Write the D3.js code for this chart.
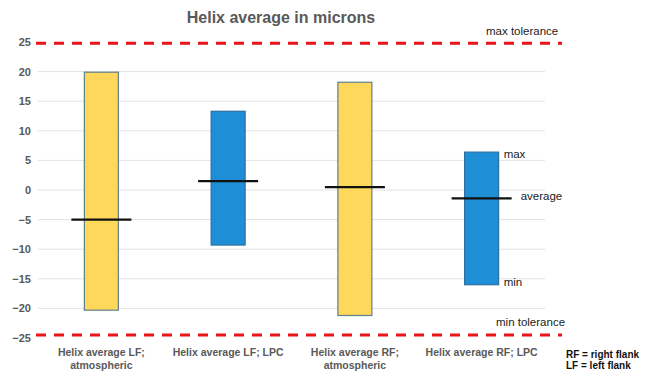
<!DOCTYPE html>
<html>
<head>
<meta charset="utf-8">
<script src="https://cdn.jsdelivr.net/npm/d3@7"></script>
<style>
  body { margin: 0; background: #fff; }
  svg { display: block; font-family: Arial, "Liberation Sans", sans-serif; }
</style>
</head>
<body>
<div id="chart"></div>
<script>
// data
const categories = [
  ["Helix average LF;", "atmospheric"],
  ["Helix average LF; LPC"],
  ["Helix average RF;", "atmospheric"],
  ["Helix average RF; LPC"]
];
const maxValues = [19.9, 13.3, 18.2, 6.4];
const minValues = [-20.3, -9.3, -21.2, -16.0];
const avgValues = [-5.0, 1.5, 0.5, -1.4];
const barColors = ["#FFD75A", "#1E8FD6", "#FFD75A", "#1E8FD6"];
const barStrokes = ["#5f7f8c", "#2a6fa0", "#5f7f8c", "#2a6fa0"];
const yTicks = [-25, -20, -15, -10, -5, 0, 5, 10, 15, 20, 25];
const maxTolerance = 24.8;
const minTolerance = -24.5;

const width = 647, height = 371;
const margin = { top: 42, right: 102, bottom: 33, left: 38 };

const svg = d3.select("#chart").append("svg")
  .attr("width", width)
  .attr("height", height);

// y scale: 25 at y=42, -25 at y=338
const y = d3.scaleLinear()
  .domain([-25, 25])
  .range([height - margin.bottom, margin.top]);

const x = d3.scaleBand()
  .domain(d3.range(categories.length))
  .range([margin.left, width - margin.right])
  .paddingInner(0);

// gridlines
svg.append("g")
  .selectAll("line")
  .data(yTicks.filter(t => Math.abs(t) < 25))
  .join("line")
  .attr("x1", margin.left)
  .attr("x2", width - margin.right)
  .attr("y1", d => y(d))
  .attr("y2", d => y(d))
  .attr("stroke", "#e3e3e3")
  .attr("stroke-width", 1);

// y axis labels
const yAxis = svg.append("g")
  .attr("transform", "translate(" + (margin.left - 7) + ",0)")
  .call(d3.axisLeft(y).tickValues(yTicks).tickSize(0).tickPadding(0));
yAxis.select(".domain").remove();
yAxis.selectAll("text")
  .attr("fill", "#595959")
  .style("font-size", "11px")
  .style("font-weight", "bold");

// bars (min to max)
const barW = 34;
svg.append("g")
  .selectAll("rect")
  .data(categories)
  .join("rect")
  .attr("x", (d, i) => x(i) + x.bandwidth() / 2 - barW / 2)
  .attr("y", (d, i) => y(maxValues[i]))
  .attr("width", barW)
  .attr("height", (d, i) => y(minValues[i]) - y(maxValues[i]))
  .attr("fill", (d, i) => barColors[i])
  .attr("stroke", (d, i) => barStrokes[i])
  .attr("stroke-width", 1.2);

// average markers
const avgW = 60;
svg.append("g")
  .selectAll("line")
  .data(avgValues)
  .join("line")
  .attr("x1", (d, i) => x(i) + x.bandwidth() / 2 - avgW / 2)
  .attr("x2", (d, i) => x(i) + x.bandwidth() / 2 + avgW / 2)
  .attr("y1", d => y(d))
  .attr("y2", d => y(d))
  .attr("stroke", "#111")
  .attr("stroke-width", 2.2);

// tolerance lines
svg.append("g")
  .selectAll("line")
  .data([maxTolerance, minTolerance])
  .join("line")
  .attr("x1", margin.left - 2)
  .attr("x2", 562)
  .attr("y1", d => y(d))
  .attr("y2", d => y(d))
  .attr("stroke", "#e8141a")
  .attr("stroke-width", 3)
  .attr("stroke-dasharray", "10,8");

// tolerance labels
svg.append("text")
  .attr("x", 486).attr("y", y(maxTolerance) - 8)
  .attr("fill", "#222").style("font-size", "11.5px")
  .text("max tolerance");
svg.append("text")
  .attr("x", 496).attr("y", y(minTolerance) - 9)
  .attr("fill", "#222").style("font-size", "11.5px")
  .text("min tolerance");

// annotation for last bar
const last = categories.length - 1;
const lastRight = x(last) + x.bandwidth() / 2 + barW / 2;
svg.append("text")
  .attr("x", lastRight + 5).attr("y", y(maxValues[last]) + 6)
  .attr("fill", "#222").style("font-size", "11.5px")
  .text("max");
svg.append("text")
  .attr("x", lastRight + 5).attr("y", y(minValues[last]) + 1)
  .attr("fill", "#222").style("font-size", "11.5px")
  .text("min");
svg.append("text")
  .attr("x", lastRight + 22).attr("y", y(avgValues[last]) + 2)
  .attr("fill", "#222").style("font-size", "11.5px")
  .text("average");

// category labels
const catG = svg.append("g");
categories.forEach((lines, i) => {
  const t = catG.append("text")
    .attr("x", x(i) + x.bandwidth() / 2)
    .attr("y", 356)
    .attr("text-anchor", "middle")
    .attr("fill", "#595959")
    .style("font-size", "10.5px")
    .style("font-weight", "bold");
  lines.forEach((l, j) => {
    t.append("tspan")
      .attr("x", x(i) + x.bandwidth() / 2)
      .attr("dy", j === 0 ? 0 : 12.5)
      .text(l);
  });
});

// title
svg.append("text")
  .attr("x", 281).attr("y", 23)
  .attr("text-anchor", "middle")
  .attr("fill", "#595959")
  .style("font-size", "16px")
  .style("font-weight", "bold")
  .text("Helix average in microns");

// footnote
svg.append("text")
  .attr("x", 566).attr("y", 358)
  .attr("fill", "#111").style("font-size", "10px").style("font-weight", "bold")
  .text("RF = right flank");
svg.append("text")
  .attr("x", 566).attr("y", 369)
  .attr("fill", "#111").style("font-size", "10px").style("font-weight", "bold")
  .text("LF = left flank");
</script>
</body>
</html>
